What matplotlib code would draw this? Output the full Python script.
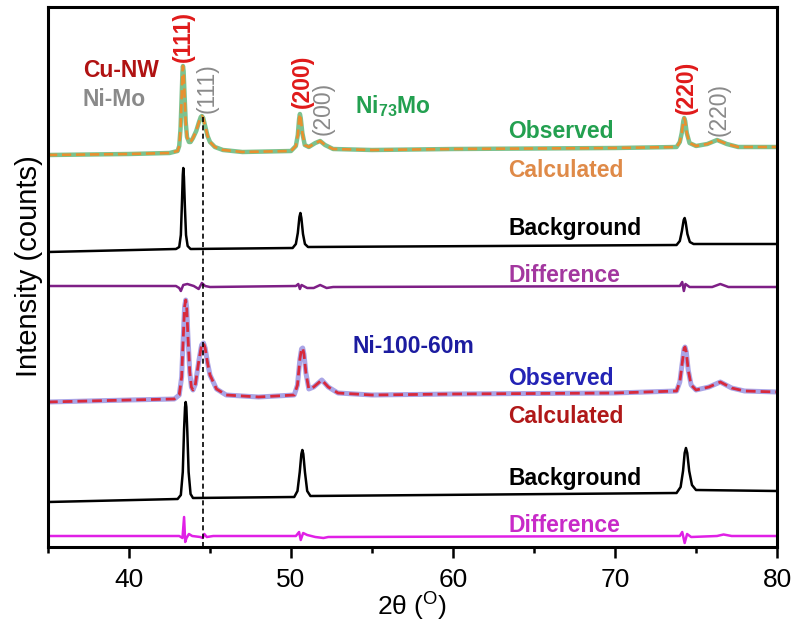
"""Rietveld refinement plot: Ni73Mo and Ni-100-60m on Cu nanowires.

Each pattern is drawn as observed / calculated / background / difference,
stacked with a vertical offset (arbitrary counts).
"""
import matplotlib
matplotlib.use("Agg")
import matplotlib.pyplot as plt
from matplotlib.ticker import MultipleLocator

plt.rcParams["font.family"] = ["Liberation Sans", "DejaVu Sans"]
plt.rcParams["mathtext.fontset"] = "custom"
plt.rcParams["mathtext.rm"] = "Liberation Sans"
plt.rcParams["mathtext.bf"] = "Liberation Sans:bold"

# --- Ni73Mo (top set), already offset ---
tth_obs_top = [35, 40, 42.5, 43.0, 43.1, 43.18, 43.25, 43.3, 43.33, 43.37,
               43.43, 43.5, 43.58, 43.7, 43.8, 43.95, 44.15, 44.32, 44.43, 44.5,
               44.58, 44.7, 44.85, 45.0, 45.3, 45.8, 47, 50,
               50.3, 50.42, 50.5, 50.55, 50.6, 50.7, 50.85, 51.1, 51.5, 51.8,
               52.1, 52.6, 55, 60, 70, 73.8, 74.0, 74.12, 74.22, 74.27,
               74.33, 74.43, 74.6, 75.0, 75.7, 76.3, 76.9, 77.6, 80]
obs_top = [392, 393, 394, 396, 401, 418, 450, 475, 481, 476,
           452, 425, 410, 405, 405, 409, 416, 425, 430, 431,
           429, 421, 411, 405, 400, 397, 395, 396,
           401, 412, 428, 433, 429, 414, 402, 400, 404, 406,
           402, 398, 397, 398, 399, 400, 405, 414, 426, 429,
           426, 414, 404, 401, 403, 407, 403, 400, 400]
# the fit sits on top of the data everywhere
calc_top = list(obs_top)

tth_bkg_top = [35, 42.9, 43.1, 43.2, 43.27, 43.32, 43.35, 43.39, 43.45, 43.52,
               43.62, 43.8, 50.1, 50.3, 50.42, 50.52, 50.58, 50.64, 50.74, 50.86,
               51.05, 73.8, 74.0, 74.13, 74.24, 74.3, 74.36, 74.47, 74.62, 74.85, 80]
bkg_top = [295, 298, 300, 312, 345, 372, 379, 370, 340, 312,
           301, 298, 299, 303, 314, 330, 334, 329, 313, 303,
           300, 302, 306, 316, 327, 329, 325, 313, 305, 303, 303]

tth_diff_top = [35, 42.9, 43.1, 43.2, 43.35, 43.6, 44.0, 44.3, 44.5, 44.7,
                45, 50.3, 50.45, 50.55, 50.65, 51.0, 51.4, 51.8, 52.2, 52.6,
                74.0, 74.15, 74.25, 74.35, 74.6, 76.0, 76.5, 77, 80]
diff_top = [261, 261, 259, 256, 262, 263, 261, 258, 264, 261,
            260, 261, 263, 258, 262, 259, 259, 262, 259, 260,
            261, 265, 256, 263, 260, 260, 263, 260, 260]

# --- Ni-100-60m (bottom set) ---
tth_obs_bot = [35, 40, 42.8, 43.1, 43.25, 43.35, 43.43, 43.5, 43.56, 43.64,
               43.75, 43.85, 43.95, 44.1, 44.3, 44.48, 44.6, 44.7, 44.85, 45.0,
               45.4, 46, 48, 50.2, 50.4, 50.55, 50.65, 50.72, 50.8, 50.92,
               51.1, 51.4, 51.9, 52.3, 52.9, 55, 60, 70, 73.8, 74.0,
               74.15, 74.26, 74.32, 74.4, 74.52, 74.7, 75.0, 75.8, 76.5, 77.2,
               78, 80]
obs_bot = [145, 147, 148, 152, 170, 210, 240, 247, 240, 210,
           175, 160, 157, 163, 185, 202, 204, 199, 184, 172,
           158, 152, 150, 152, 162, 188, 198, 199, 193, 174,
           158, 160, 167, 160, 154, 152, 153, 154, 156, 165,
           184, 198, 200, 195, 177, 162, 157, 160, 165, 159,
           156, 155]
calc_bot = list(obs_bot)

tth_bkg_bot = [35, 43.0, 43.2, 43.32, 43.4, 43.46, 43.5, 43.54, 43.6, 43.68,
               43.8, 43.95, 50.2, 50.4, 50.54, 50.64, 50.7, 50.76, 50.86, 51.0,
               51.2, 73.8, 74.05, 74.2, 74.3, 74.38, 74.46, 74.58, 74.75, 75.0, 80]
bkg_bot = [45, 48, 52, 75, 118, 140, 145, 140, 115, 75,
           53, 49, 50, 56, 75, 93, 97, 93, 75, 56,
           51, 54, 60, 76, 94, 99, 94, 76, 62, 57, 56]

tth_diff_bot = [35, 43.1, 43.3, 43.4, 43.47, 43.55, 43.7, 43.9, 44.4, 44.55,
                44.65, 44.8, 45.2, 50.3, 50.5, 50.6, 50.75, 51.0, 51.5, 52,
                52.3, 74.0, 74.15, 74.3, 74.45, 74.7, 76.3, 76.7, 77.2, 80]
diff_bot = [11, 11, 9, 30, 5, 9, 13, 11, 10, 9,
            13, 10, 11, 11, 15, 7, 14, 12, 10, 9,
            10, 11, 15, 4, 13, 10, 11, 12.5, 11, 11]

# Ni-Mo (111) reference position and reflection labels
NIMO_111 = 44.57
hkl = ["(111)", "(200)", "(220)"]
cu_hkl_pos = [43.33, 50.68, 74.38]
cu_hkl_y = [510, 466, 460]
nimo_hkl_pos = [44.8, 51.98, 76.4]
nimo_hkl_y = [459, 439, 438]

FS = 16.5

fig = plt.figure(figsize=(7.95, 6.26), dpi=100)
ax = fig.add_axes([48 / 795, 79 / 626, 729 / 795, 540 / 626])

ax.plot(tth_obs_top, obs_top, color="#7cc28f", lw=3.2, solid_capstyle="round")
ax.plot(tth_obs_top, calc_top, color="#e8902f", lw=1.9, dashes=(3.5, 1.8))
ax.plot(tth_bkg_top, bkg_top, color="black", lw=1.8)
ax.plot(tth_diff_top, diff_top, color="#7e1f86", lw=1.8)

ax.plot(tth_obs_bot, obs_bot, color="#aaa5e6", lw=3.6, solid_capstyle="round")
ax.plot(tth_obs_bot, calc_bot, color="#d82a3c", lw=2.0, dashes=(3.5, 1.8))
ax.plot(tth_bkg_bot, bkg_bot, color="black", lw=1.8)
ax.plot(tth_diff_bot, diff_bot, color="#e020e6", lw=1.8)

ax.plot([NIMO_111, NIMO_111], [0, max(obs_top[15:24])], color="black",
        lw=1.2, ls=(0, (3, 2)))

for lab, x, y in zip(hkl, cu_hkl_pos, cu_hkl_y):
    ax.text(x, y, lab, rotation=90, ha="center", va="center", fontsize=FS,
            fontweight="bold", color="#e01a1a")
for lab, x, y in zip(hkl, nimo_hkl_pos, nimo_hkl_y):
    ax.text(x, y, lab, rotation=90, ha="center", va="center", fontsize=FS,
            color="#8a8a8a")

ax.text(37.16, 470, "Cu-NW", fontsize=FS, fontweight="bold", color="#b01212")
ax.text(37.16, 441, "Ni-Mo", fontsize=FS, fontweight="bold", color="#8a8a8a")
ax.text(53.95, 434, r"Ni$_{\mathbf{73}}$Mo", fontsize=FS, fontweight="bold",
        color="#23a050")
ax.text(53.77, 194, "Ni-100-60m", fontsize=FS, fontweight="bold", color="#1c1ca0")

x_lab = 63.4
ax.text(x_lab, 409, "Observed", fontsize=FS, fontweight="bold", color="#23a050")
ax.text(x_lab, 370, "Calculated", fontsize=FS, fontweight="bold", color="#df8a48")
ax.text(x_lab, 312, "Background", fontsize=FS, fontweight="bold", color="black")
ax.text(x_lab, 265, "Difference", fontsize=FS, fontweight="bold", color="#a3379f")
ax.text(x_lab, 162, "Observed", fontsize=FS, fontweight="bold", color="#2323b5")
ax.text(x_lab, 124, "Calculated", fontsize=FS, fontweight="bold", color="#b01818")
ax.text(x_lab, 62, "Background", fontsize=FS, fontweight="bold", color="black")
ax.text(x_lab, 15, "Difference", fontsize=FS, fontweight="bold", color="#c82ac8")

ax.set_xlim(35, 80)
ax.set_ylim(0, 540)
ax.set_yticks([])
ax.xaxis.set_major_locator(MultipleLocator(10))
ax.xaxis.set_minor_locator(MultipleLocator(5))
ax.tick_params(axis="x", which="major", direction="out", length=8, width=1.8,
               labelsize=19, pad=7)
ax.tick_params(axis="x", which="minor", direction="out", length=4, width=1.8)
for sp in ax.spines.values():
    sp.set_linewidth(2.2)

ax.set_xlabel(r"2θ ($^{\mathrm{O}}$)", fontsize=19, labelpad=-2)
ax.set_ylabel("Intensity (counts)", fontsize=21)
ax.yaxis.set_label_coords(-0.007, 0.52)

fig.savefig("out.png", dpi=100)
